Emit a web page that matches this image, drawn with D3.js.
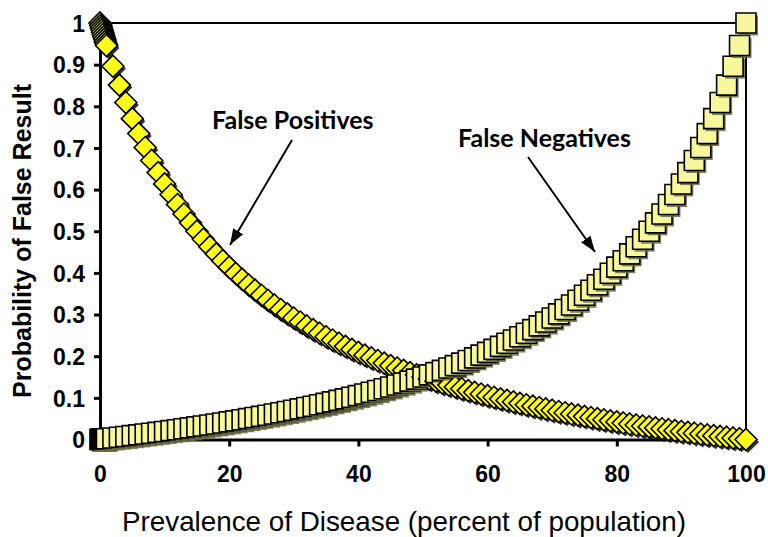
<!DOCTYPE html>
<html>
<head>
<meta charset="utf-8">
<script src="https://cdn.jsdelivr.net/npm/d3@7"></script>
<style>
  html, body { margin: 0; padding: 0; background: #fff; }
  svg { display: block; }
</style>
</head>
<body>
<svg id="chart" width="768" height="537"></svg>
<script>
// ---- data ----
const prevalence = [0,0.1,0.2,0.3,0.4,0.5,0.6,0.7,0.8,0.9,
  1,2,3,4,5,6,7,8,9,10,11,12,13,14,15,16,17,18,19,20,
  21,22,23,24,25,26,27,28,29,30,31,32,33,34,35,36,37,38,39,40,
  41,42,43,44,45,46,47,48,49,50,51,52,53,54,55,56,57,58,59,60,
  61,62,63,64,65,66,67,68,69,70,71,72,73,74,75,76,77,78,79,80,
  81,82,83,84,85,86,87,88,89,90,91,92,93,94,95,96,97,98,99,100];

const falsePositives = [1,0.9944,0.9888,0.9832,0.9777,0.9723,0.9669,0.9616,0.9563,0.9511,
  0.9459,0.8963,0.8509,0.8090,0.7703,0.7344,0.7010,0.6699,0.6408,0.6136,
  0.5881,0.5641,0.5415,0.5202,0.5000,0.4809,0.4628,0.4457,0.4293,0.4138,
  0.3990,0.3849,0.3714,0.3585,0.3462,0.3343,0.3230,0.3121,0.3017,0.2917,
  0.2820,0.2727,0.2638,0.2552,0.2468,0.2388,0.2311,0.2236,0.2163,0.2093,
  0.2025,0.1959,0.1896,0.1834,0.1774,0.1716,0.1660,0.1605,0.1552,0.1500,
  0.1450,0.1401,0.1353,0.1307,0.1262,0.1218,0.1175,0.1133,0.1092,0.1053,
  0.1014,0.0976,0.0939,0.0903,0.0868,0.0833,0.0800,0.0767,0.0735,0.0703,
  0.0672,0.0642,0.0613,0.0584,0.0556,0.0528,0.0501,0.0474,0.0448,0.0423,
  0.0397,0.0373,0.0349,0.0325,0.0302,0.0279,0.0257,0.0235,0.0213,0.0192,
  0.0172,0.0151,0.0131,0.0111,0.0092,0.0073,0.0054,0.0036,0.0018,0];

const falseNegatives = [0,0.0002,0.0004,0.0005,0.0007,0.0009,0.0011,0.0012,0.0014,0.0016,
  0.0018,0.0036,0.0054,0.0073,0.0092,0.0111,0.0131,0.0151,0.0172,0.0192,
  0.0213,0.0235,0.0257,0.0279,0.0302,0.0325,0.0349,0.0373,0.0397,0.0423,
  0.0448,0.0474,0.0501,0.0528,0.0556,0.0584,0.0613,0.0642,0.0672,0.0703,
  0.0735,0.0767,0.0800,0.0833,0.0868,0.0903,0.0939,0.0976,0.1014,0.1053,
  0.1092,0.1133,0.1175,0.1218,0.1262,0.1307,0.1353,0.1401,0.1450,0.1500,
  0.1552,0.1605,0.1660,0.1716,0.1774,0.1834,0.1896,0.1959,0.2025,0.2093,
  0.2163,0.2236,0.2311,0.2388,0.2468,0.2552,0.2638,0.2727,0.2820,0.2917,
  0.3017,0.3121,0.3230,0.3343,0.3462,0.3585,0.3714,0.3849,0.3990,0.4138,
  0.4293,0.4457,0.4628,0.4809,0.5000,0.5202,0.5415,0.5641,0.5881,0.6136,
  0.6408,0.6699,0.7010,0.7344,0.7703,0.8090,0.8509,0.8963,0.9459,1];

const xTicks = [0, 20, 40, 60, 80, 100];
const yTicks = [0, 0.1, 0.2, 0.3, 0.4, 0.5, 0.6, 0.7, 0.8, 0.9, 1];
const yTickLabels = ["0","0.1","0.2","0.3","0.4","0.5","0.6","0.7","0.8","0.9","1"];

// ---- layout ----
const svg = d3.select("#chart");
const x = d3.scaleLinear().domain([0, 100]).range([100, 746]);
const y = d3.scaleLinear().domain([0, 1]).range([439.5, 23]);

// frame (top & right)
svg.append("path")
  .attr("d", `M${x(0)},${y(1)}H${x(100)}V${y(0)}`)
  .attr("fill", "none").attr("stroke", "#000").attr("stroke-width", 2);

// axes
const xAxis = svg.append("g").attr("transform", `translate(0,${y(0)})`)
  .call(d3.axisBottom(x).tickValues(xTicks).tickSize(7).tickSizeOuter(0).tickPadding(20));
const yAxis = svg.append("g").attr("transform", `translate(${x(0)},0)`)
  .call(d3.axisLeft(y).tickValues(yTicks).tickFormat((d, i) => yTickLabels[i]).tickSize(6).tickSizeOuter(0).tickPadding(9));

[xAxis, yAxis].forEach(g => {
  g.select(".domain").attr("stroke", "#000").attr("stroke-width", 3);
  g.selectAll(".tick line").attr("stroke", "#000").attr("stroke-width", 3);
  g.selectAll(".tick text")
    .attr("fill", "#000")
    .style("font-family", "'Liberation Sans', Arial, sans-serif")
    .style("font-weight", "bold")
    .style("font-size", "23px");
});
xAxis.selectAll(".tick text").attr("dy", "0.66em");
yAxis.selectAll(".tick text").attr("dy", "0.36em");

// axis titles
svg.append("text")
  .attr("x", 404).attr("y", 531)
  .attr("text-anchor", "middle")
  .style("font-family", "'Liberation Sans', Arial, sans-serif")
  .style("font-size", "27.8px")
  .attr("fill", "#000")
  .text("Prevalence of Disease (percent of population)");

svg.append("text")
  .attr("transform", "translate(31,241) rotate(-90)")
  .attr("text-anchor", "middle")
  .style("font-family", "'Liberation Sans', Arial, sans-serif")
  .style("font-weight", "bold")
  .style("font-size", "25px")
  .attr("fill", "#000")
  .text("Probability of False Result");

// ---- markers (interleaved by x, as drawn in the original) ----
const pts = [];
prevalence.forEach((p, i) => {
  pts.push({ p, v: falsePositives[i], kind: "fp" });
  pts.push({ p, v: falseNegatives[i], kind: "fn" });
});

const dHalf = 11;   // diamond half-diagonal
const sHalf = 10;   // square half-side
const diamondPath = `M0,${-dHalf}L${dHalf},0L0,${dHalf}L${-dHalf},0Z`;
const squarePath = `M${-sHalf},${-sHalf}H${sHalf}V${sHalf}H${-sHalf}Z`;

const mg = svg.append("g");
const m = mg.selectAll("g.mk").data(pts).join("g")
  .attr("class", "mk")
  .attr("transform", d => `translate(${x(d.p)},${y(d.v)})`);

m.append("path")
  .attr("d", d => d.kind === "fp" ? diamondPath : squarePath)
  .attr("transform", "translate(2,2.5)")
  .attr("fill", d => d.kind === "fp" ? "#111" : "#6b6b45")
  .attr("opacity", 0.85);

m.append("path")
  .attr("d", d => d.kind === "fp" ? diamondPath : squarePath)
  .attr("fill", d => d.kind === "fp" ? "#ffff1a" : "#f7f79c")
  .attr("stroke", "#000")
  .attr("stroke-width", 1.6);

// ---- annotations ----
const defs = svg.append("defs");
defs.append("marker")
  .attr("id", "arrow")
  .attr("viewBox", "0 0 14 10")
  .attr("refX", 14).attr("refY", 5)
  .attr("markerWidth", 8).attr("markerHeight", 6)
  .attr("markerUnits", "strokeWidth")
  .attr("orient", "auto")
  .append("path").attr("d", "M0,0L14,5L0,10Z").attr("fill", "#000");

const annFont = "Lato, 'Open Sans', sans-serif";
svg.append("text")
  .attr("x", 212).attr("y", 129)
  .style("font-family", annFont).style("font-weight", "bold").style("font-size", "25px")
  .attr("fill", "#000")
  .text("False Positives");
svg.append("text")
  .attr("x", 458).attr("y", 147)
  .style("font-family", annFont).style("font-weight", "bold").style("font-size", "25px")
  .attr("fill", "#000")
  .text("False Negatives");

svg.append("line")
  .attr("x1", 292).attr("y1", 140).attr("x2", 230).attr("y2", 245)
  .attr("stroke", "#000").attr("stroke-width", 2).attr("marker-end", "url(#arrow)");
svg.append("line")
  .attr("x1", 528).attr("y1", 157).attr("x2", 595).attr("y2", 252)
  .attr("stroke", "#000").attr("stroke-width", 2).attr("marker-end", "url(#arrow)");
</script>
</body>
</html>
